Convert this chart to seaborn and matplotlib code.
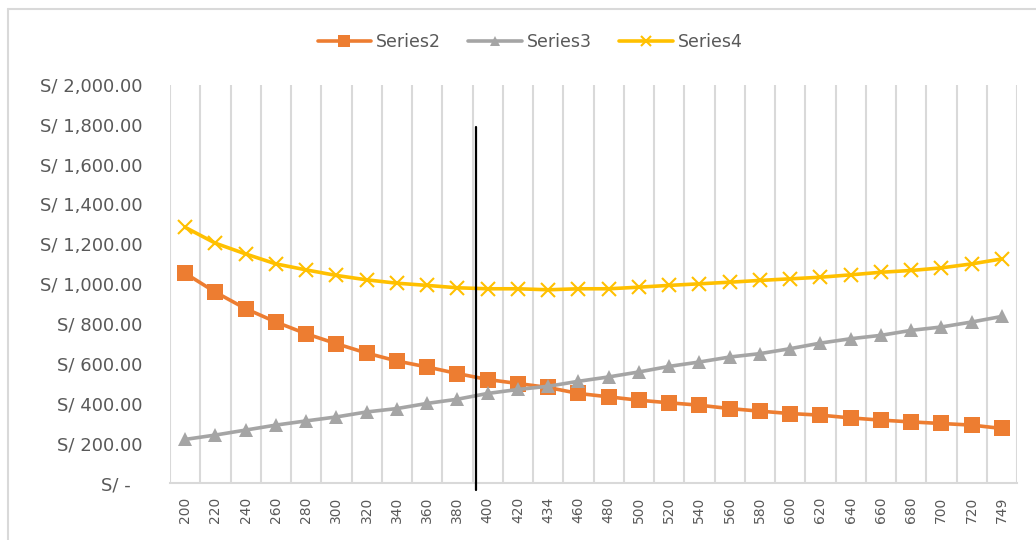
import matplotlib
matplotlib.use("Agg")
import matplotlib.pyplot as plt
from matplotlib.lines import Line2D
from matplotlib.ticker import FuncFormatter, FixedLocator
import seaborn as sns
import pandas as pd
import numpy as np

# ---- data ----
categories = ["200", "220", "240", "260", "280", "300", "320", "340", "360", "380",
              "400", "420", "434", "460", "480", "500", "520", "540", "560", "580",
              "600", "620", "640", "660", "680", "700", "720", "749"]
series2 = [1054, 959, 876, 809, 750, 700, 653, 613, 583, 550, 520, 500, 480, 450,
           433, 416, 403, 391, 374, 361, 349, 341, 327, 316, 307, 299, 291, 274]
series3 = [219, 241, 266, 291, 312, 332, 357, 374, 400, 421, 450, 470, 486, 511,
           533, 558, 586, 608, 633, 650, 675, 703, 725, 742, 767, 784, 809, 837]
series4 = [1285, 1205, 1151, 1101, 1071, 1043, 1021, 1004, 993, 981, 976, 976, 971, 976,
           976, 984, 993, 1001, 1009, 1018, 1026, 1034, 1046, 1059, 1068, 1081, 1101, 1126]
series_names = ["Series2", "Series3", "Series4"]
y_ticks = [0, 200, 400, 600, 800, 1000, 1200, 1400, 1600, 1800, 2000]
marker_line_pos = 9.6      # category position of the black vertical marker line
marker_line_top = 1790

sns.set_theme(style="white")
plt.rcParams["font.family"] = ["DejaVu Sans"]

colors = {"Series2": "#ED7D31", "Series3": "#A5A5A5", "Series4": "#FFC000"}
markers = {"Series2": "s", "Series3": "^", "Series4": "x"}
msizes = {"Series2": 11.5, "Series3": 10, "Series4": 10.5}

pos = np.arange(len(categories))
df = pd.DataFrame({
    "pos": np.tile(pos, 3),
    "value": series2 + series3 + series4,
    "series": np.repeat(series_names, len(categories)),
})

fig = plt.figure(figsize=(10.36, 5.4), dpi=100)
ax = fig.add_axes([170 / 1036, 1 - 483 / 540, (1017 - 170) / 1036, (483 - 85) / 540])

for name in series_names:
    sub = df[df["series"] == name]
    sns.lineplot(data=sub, x="pos", y="value", ax=ax, color=colors[name],
                 marker=markers[name], markersize=msizes[name],
                 markeredgewidth=1.5 if name == "Series4" else 0,
                 markeredgecolor=colors[name], linewidth=2.6, label=name,
                 zorder=3)

# black vertical marker line
ax.plot([marker_line_pos, marker_line_pos], [-35, marker_line_top], color="black",
        linewidth=1.6, clip_on=False, zorder=4)

ax.set_xlim(-0.5, len(categories) - 0.5)
ax.set_ylim(0, 2000)
ax.set_xticks(pos)
ax.set_xticklabels(categories, rotation=90, fontsize=10, color="#595959")
ax.xaxis.set_minor_locator(FixedLocator(np.arange(-0.5, len(categories), 1.0)))
ax.grid(which="minor", axis="x", color="#D9D9D9", linewidth=1.5)
ax.grid(which="major", axis="both", visible=False)
ax.set_axisbelow(True)

ax.yaxis.set_major_locator(FixedLocator(y_ticks))
ax.yaxis.set_major_formatter(FuncFormatter(lambda v, p: "S/ -  " if v == 0 else f"S/ {v:,.2f}"))
for lab in ax.get_yticklabels():
    lab.set_fontsize(13)
    lab.set_color("#595959")

ax.tick_params(axis="both", which="both", length=0)
ax.tick_params(axis="y", pad=20)
ax.tick_params(axis="x", pad=10)
ax.set_xlabel("")
ax.set_ylabel("")

for s in ["top", "right", "left"]:
    ax.spines[s].set_visible(False)
ax.spines["bottom"].set_color("#D9D9D9")
ax.spines["bottom"].set_linewidth(1.5)

leg = ax.legend(loc="center", bbox_to_anchor=(530 / 1036, 1 - 42 / 540),
                bbox_transform=fig.transFigure, ncol=3, frameon=False,
                fontsize=12.5, handlelength=3.1, handletextpad=0.25,
                columnspacing=1.6, markerscale=0.75)
for t in leg.get_texts():
    t.set_color("#595959")

# chart-area border (top and left edges visible)
fig.add_artist(Line2D([8 / 1036, 8 / 1036], [0, 1 - 9 / 540], transform=fig.transFigure,
                      color="#D9D9D9", linewidth=1.5))
fig.add_artist(Line2D([8 / 1036, 1], [1 - 9 / 540, 1 - 9 / 540], transform=fig.transFigure,
                      color="#D9D9D9", linewidth=1.5))

fig.savefig("out.png", dpi=100)
